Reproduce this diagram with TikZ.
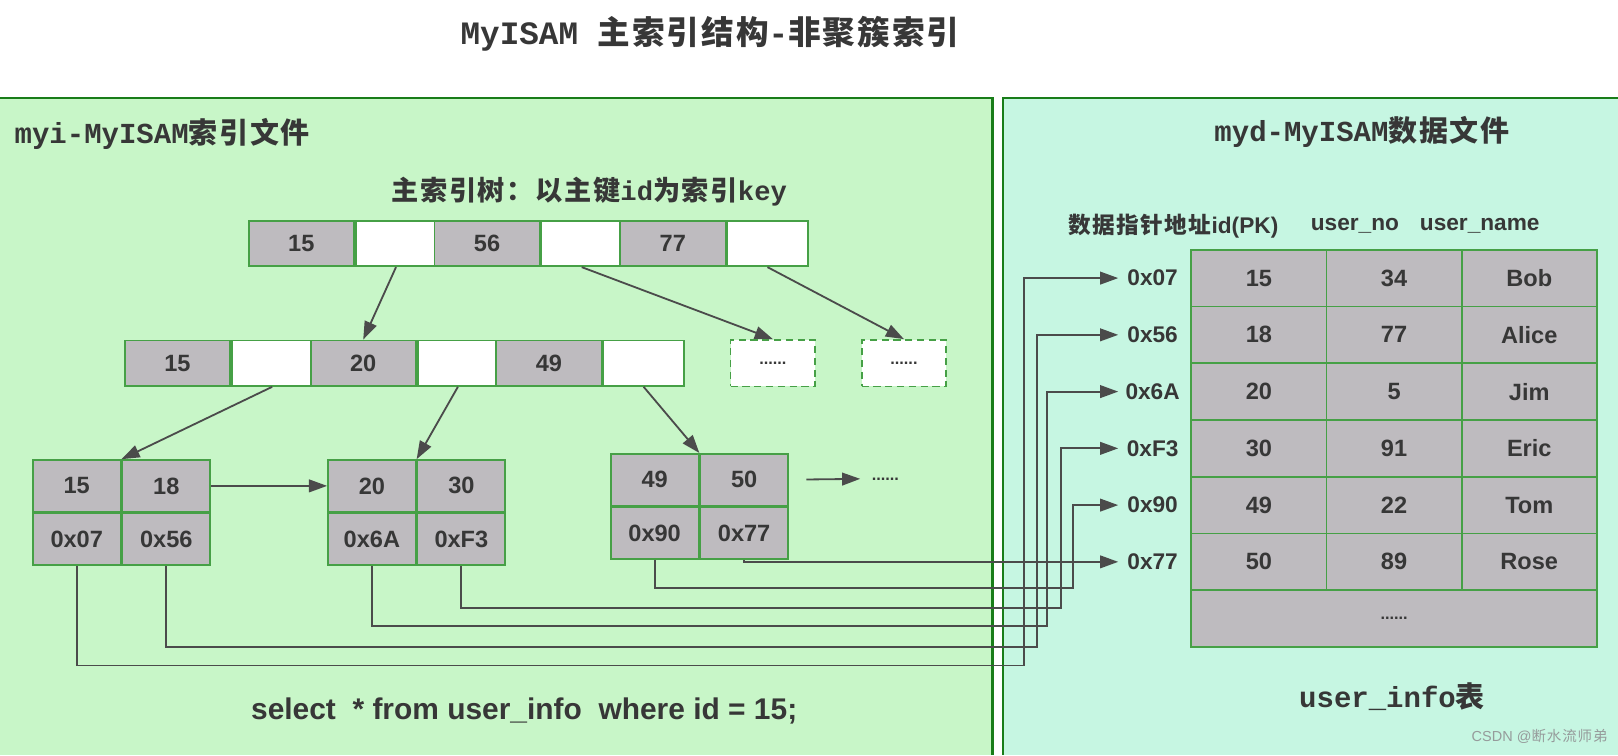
\documentclass[tikz,border=0pt]{standalone}
\usepackage{fontspec}
\setmainfont{Liberation Sans}
\newfontfamily\cjk[LetterSpace=6]{Noto Sans CJK SC}
\newfontfamily\monofam{Liberation Mono}
\usetikzlibrary{arrows.meta}
\definecolor{idxbg}{RGB}{200,246,200}
\definecolor{datbg}{RGB}{198,246,226}
\definecolor{panelgreen}{RGB}{25,125,25}
\definecolor{cellgreen}{RGB}{70,160,70}
\definecolor{cellgray}{RGB}{190,187,191}
\definecolor{ink}{RGB}{55,55,55}
\definecolor{wire}{RGB}{75,75,75}
\newcommand{\px}{0.02cm}
\newcommand{\zh}[1]{{\cjk #1}}

\begin{document}
\begin{tikzpicture}[x=\px, y=-\px,
  idxcell/.style={draw=cellgreen, line width=1pt, fill=cellgray, inner sep=0pt, text=ink,
    font=\bfseries\fontsize{13}{15}\selectfont, minimum height=44*\px},
  keycell/.style={idxcell, minimum width=102*\px},
  ptrcell/.style={idxcell, fill=white, minimum width=78*\px},
  dotbox/.style={idxcell, fill=white, dash pattern=on 4pt off 2.5pt,
    font=\bfseries\fontsize{9}{10}\selectfont, minimum width=82*\px, minimum height=45*\px},
  leafcell/.style={idxcell, minimum width=85*\px, minimum height=50*\px},
  datacell/.style={idxcell, minimum width=131*\px, minimum height=55*\px},
  arrowlink/.style={draw=wire, line width=1pt, -{Triangle[length=10pt,width=7pt]}},
  label/.style={text=ink, font=\bfseries\fontsize{12.5}{15}\selectfont},
  heading/.style={text=ink, font=\monofam\bfseries\fontsize{16}{19}\selectfont}]
\useasboundingbox (0,0) rectangle (1568,732);
\fill[white] (0,0) rectangle (1568,732);

% the two files
\fill[idxbg] (0,95) rectangle (962,732);
\fill[datbg] (972,95) rectangle (1568,732);
\draw[panelgreen, line width=1.6pt] (0,95) -- (962,95) -- (962,732);
\draw[panelgreen, line width=1.6pt] (1568,95) -- (972,95) -- (972,732);

\node[heading, font=\monofam\bfseries\fontsize{18}{22}\selectfont] (title) at (688,33)
  {MyISAM \zh{主索引结构}-\zh{非聚簇索引}};
\node[heading, anchor=west] (myi) at (8,130) {myi-MyISAM\zh{索引文件}};
\node[heading] (myd) at (1320,128) {myd-MyISAM\zh{数据文件}};
\node[heading, font=\monofam\bfseries\fontsize{15}{18}\selectfont] (treecap) at (571,186)
  {\zh{主索引树：以主键}id\zh{为索引}key};

% root and second level
\foreach \k [count=\i] in {15,56,77} {
  \node[keycell] (r\i) at ({292+180*(\i-1)},236) {\k};
  \node[ptrcell, anchor=west] (rp\i) at (r\i.east) {};
}
\foreach \k [count=\i] in {15,20,49} {
  \node[keycell] (m\i) at ({172+180*(\i-1)},352) {\k};
  \node[ptrcell, anchor=west] (mp\i) at (m\i.east) {};
}
\node[dotbox] (d1) at (749,352) {......};
\node[dotbox] (d2) at (876,352) {......};

% leaves: keys on top, data addresses below
\foreach \n/\x/\y/\ka/\kb/\pa/\pb in {1/31/445/15/18/0x07/0x56,
                                      2/317/445/20/30/0x6A/0xF3,
                                      3/591/439/49/50/0x90/0x77} {
  \node[leafcell, anchor=north west] (l\n-k1) at (\x,\y) {\ka};
  \node[leafcell, anchor=west] (l\n-k2) at (l\n-k1.east) {\kb};
  \node[leafcell, anchor=north] (l\n-p1) at (l\n-k1.south) {\pa};
  \node[leafcell, anchor=north] (l\n-p2) at (l\n-k2.south) {\pb};
}
\node[text=ink, font=\bfseries\fontsize{9}{10}\selectfont] (etc) at (858,464) {......};

\draw[arrowlink] (rp1.south) -- (m2.north);
\draw[arrowlink] (rp2.south) -- (d1.north);
\draw[arrowlink] (rp3.south) -- (d2.north);
\draw[arrowlink] (mp1.south) -- (l1-k1.north east);
\draw[arrowlink] (mp2.south) -- (l2-k1.north east);
\draw[arrowlink] (mp3.south) -- (l3-k1.north east);
\draw[arrowlink] (l1-k2.east) -- (l2-k1.west);
\draw[arrowlink, shorten <=0.34cm, shorten >=0.1cm] (l3-k2.east) -- (etc.west);

% data file table
\node[label, anchor=east] (hid) at (1245,219) {\zh{数据指针地址}id(PK)};
\node[label] (hno) at (1313,219) {user\_no};
\node[label] (hname) at (1434,219) {user\_name};
\foreach \id/\no/\nm/\adr [count=\i] in {15/34/Bob/0x07, 18/77/Alice/0x56, 20/5/Jim/0x6A,
                                          30/91/Eric/0xF3, 49/22/Tom/0x90, 50/89/Rose/0x77} {
  \node[datacell] (t\i-1) at (1220,{214.5+55*\i}) {\id};
  \node[datacell] (t\i-2) at (1351,{214.5+55*\i}) {\no};
  \node[datacell] (t\i-3) at (1482,{214.5+55*\i}) {\nm};
  \node[label, minimum width=66*\px, inner sep=0pt] (ad\i) at (1117,{214.5+55*\i}) {\adr};
}
\node[datacell, minimum width=393*\px, font=\bfseries\fontsize{9}{10}\selectfont] (trest) at (1351,599.5) {......};

% pointers from the leaves into the data file
\foreach \s/\lane/\depth [count=\i] in {l1-p1/992/645, l1-p2/1005/627, l2-p1/1015/607,
                                        l2-p2/1028/589, l3-p1/1040/570}
  \draw[arrowlink] (\s.south) |- (\lane,\depth) |- (ad\i.west);
\draw[arrowlink] (l3-p2.south) |- (ad6.west);

\node[text=ink, font=\bfseries\fontsize{16.5}{20}\selectfont] (query) at (508,689)
  {select\ \ * from user\_info\ \ where id = 15;};
\node[heading] (tname) at (1349,675) {user\_info\zh{表}};
\node[text={rgb,255:red,150;green,155;blue,155}, font=\fontsize{8}{10}\selectfont] (mark) at (1492,714)
  {CSDN @\zh{断水流师弟}};
\end{tikzpicture}
\end{document}
